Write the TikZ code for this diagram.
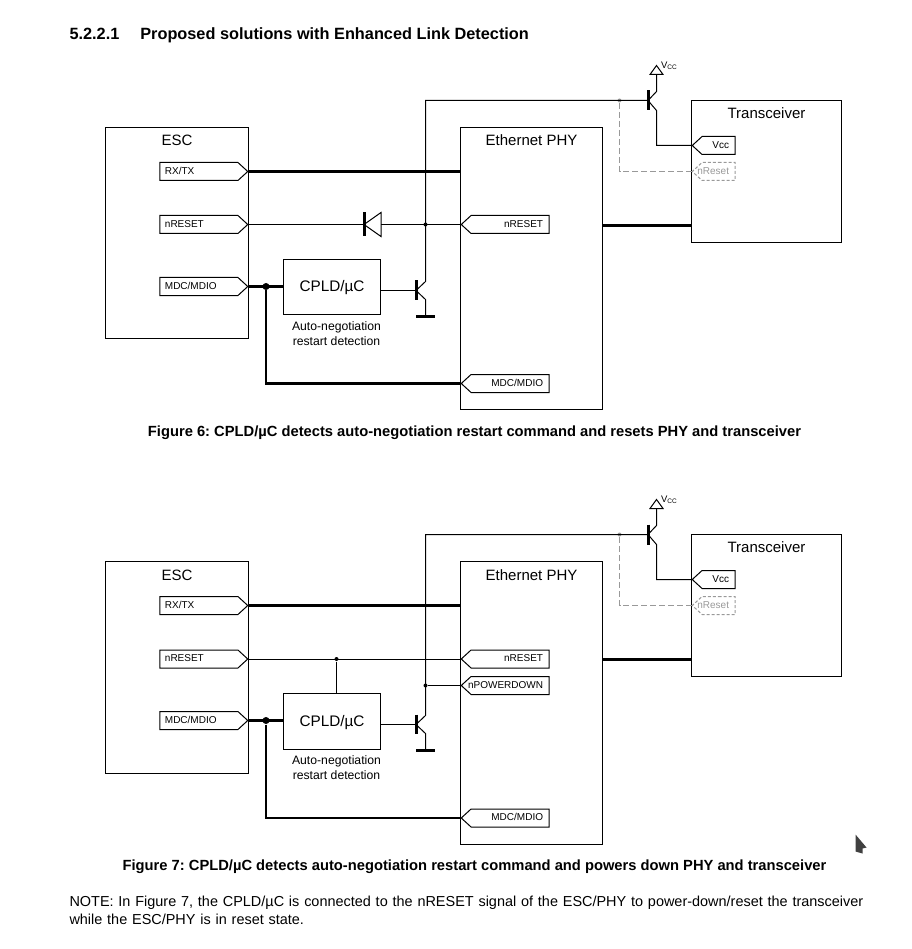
\documentclass[tikz,border=0pt]{standalone}
\usepackage{fontspec}
\setmainfont{Liberation Sans}
\usetikzlibrary{shapes.symbols}
\definecolor{ghost}{gray}{0.6}

\begin{document}
\frenchspacing
\begin{tikzpicture}[
	x=1pt,y=-1pt,
	line width=1pt,
	box/.style={draw,minimum width=143pt,inner sep=0pt},
	boxtitle/.style={font=\fontsize{15pt}{17pt}\selectfont},
	cpld/.style={draw,minimum width=97pt,text height=11pt,text depth=2pt,font=\fontsize{15.3pt}{17pt}\selectfont},
	outport/.style={draw,signal,signal to=east,signal pointer angle=85,anchor=east,inner xsep=5pt,inner ysep=0pt,minimum height=18pt,text width=68pt,text height=7.5pt,text depth=2pt,align=left,font=\fontsize{10pt}{12pt}\selectfont},
	inport/.style={draw,signal,signal to=west,signal pointer angle=85,anchor=west,inner xsep=6pt,inner ysep=0pt,minimum height=18pt,text width=#1,text height=7.5pt,text depth=2pt,align=right,font=\fontsize{10pt}{12pt}\selectfont},
	inport/.default=66pt,
	fat/.style={line width=2.8pt},
	bar/.style={line width=3pt},
	dot/.style={circle,fill,inner sep=0pt,minimum size=#1},
	dot/.default=4pt,
	note/.style={align=center,font=\fontsize{12.2pt}{15pt}\selectfont},
	caption/.style={font=\fontsize{14.72pt}{17pt}\bfseries\selectfont},
	ghostline/.style={ghost,dash pattern=on 6pt off 3pt}]
	\useasboundingbox (-0.5,-0.5) rectangle (910.5,948.5);

	\node[anchor=west,inner sep=0pt,font=\fontsize{16.3pt}{19pt}\bfseries\selectfont] (heading) at (68.5,34.5) {5.2.2.1\hspace{21pt}Proposed solutions with Enhanced Link Detection};

	% Figure 6
	\node[box,minimum height=211pt] (escA) at (176.5,232.5) {};
	\node[box,minimum width=142pt,minimum height=282pt] (phyA) at (531,268) {};
	\node[box,minimum width=150pt,minimum height=142pt] (xcvrA) at (766,171) {};
	\node[cpld,minimum height=55pt] (cpldA) at (331.5,286.5) {CPLD/µC};
	\node[boxtitle] (escAt) at (176.5,140) {ESC};
	\node[boxtitle] (phyAt) at (531,140) {Ethernet PHY};
	\node[boxtitle] (xcvrAt) at (766,113) {Transceiver};
	\node[note] (autoA) at (336,333.5) {Auto-negotiation\\restart detection};

	\node[outport] (rxA) at (248,171) {RX/TX};
	\node[outport] (rstA) at (248,224) {nRESET};
	\node[outport] (mdcA) at (248,286) {MDC/MDIO};
	\node[inport] (prstA) at (460,224) {nRESET};
	\node[inport] (pmdcA) at (460,383) {MDC/MDIO};
	\node[inport=21pt] (vccA) at (691,145) {Vcc};
	\node[inport=21pt,ghost,densely dashed,text=ghost] (xrstA) at (691,171) {\llap{nReset}};

	\coordinate (tqAb) at (647.5,100);
	\coordinate (tqAc) at (656,91);
	\coordinate (tqAe) at (656,110);
	\coordinate (tpAb) at (415.5,290);
	\coordinate (tpAc) at (425,281);
	\coordinate (tpAe) at (425,299);
	\coordinate (gndA) at (425,316);
	\coordinate (linkA) at (691,225);
	\coordinate (supA) at (656,74);
	\coordinate (cornerA) at (425,100);
	\node[dot] (jrstA) at (425,224) {};
	\node[dot,ghost] (jgA) at (619,100) {};
	\node[dot=7pt] (jmdcA) at (265.5,286) {};

	\draw[fat] (rxA.east) -- (phyA.west |- rxA.east);
	\draw[line width=3pt] (phyA.east |- linkA) -- (linkA);
	\draw[fat] (mdcA.east) -- (cpldA.west |- mdcA.east);
	\draw[fat] (jmdcA) |- (pmdcA.west);
	\draw (rstA.east) -- (363.5,224);
	\draw (380.5,224) -- (prstA.west);
	\draw[line width=3pt] (363.5,212) -- (363.5,236);
	\draw (363.5,224) -- (380.5,212) -- (380.5,236) -- cycle;
	\draw (cpldA.east |- tpAb) -- (tpAb);
	\draw[bar] (415.5,280) -- (415.5,299);
	\draw (tpAb) -- (tpAc) -- (cornerA) -- (tqAb);
	\draw (tpAb) -- (tpAe) -- (gndA);
	\draw[line width=2.2pt] (415.5,316) -- (434.5,316);
	\draw[bar] (647.5,90) -- (647.5,110);
	\draw (tqAb) -- (tqAc) -- (supA);
	\draw (649.5,74) -- (662.5,74) -- (656,65) -- cycle;
	\draw (tqAb) -- (tqAe) |- (vccA.west);
	\draw[ghostline] (jgA) |- (xrstA.west);
	\node[anchor=south west,inner sep=0pt,font=\fontsize{9.5pt}{10pt}\selectfont] (vccAt) at (660,70) {V\raisebox{-1.5pt}{\fontsize{6.5pt}{7pt}\selectfont CC}};

	\node[caption] (capA) at (474,432) {Figure 6: CPLD/µC detects auto-negotiation restart command and resets PHY and transceiver};

	% Figure 7
	\node[box,minimum height=212pt] (escB) at (176.5,667) {};
	\node[box,minimum width=142pt,minimum height=283pt] (phyB) at (531,702.5) {};
	\node[box,minimum width=150pt,minimum height=142pt] (xcvrB) at (766,605) {};
	\node[cpld,minimum height=56pt] (cpldB) at (331.5,721) {CPLD/µC};
	\node[boxtitle] (escBt) at (176.5,574.5) {ESC};
	\node[boxtitle] (phyBt) at (531,574.5) {Ethernet PHY};
	\node[boxtitle] (xcvrBt) at (766,547) {Transceiver};
	\node[note] (autoB) at (336,767.5) {Auto-negotiation\\restart detection};

	\node[outport] (rxB) at (248,605) {RX/TX};
	\node[outport] (rstB) at (248,658.5) {nRESET};
	\node[outport] (mdcB) at (248,720) {MDC/MDIO};
	\node[inport] (prstB) at (460,658.5) {nRESET};
	\node[inport] (ppdB) at (460,685) {\llap{nPOWERDOWN}};
	\node[inport] (pmdcB) at (460,817.5) {MDC/MDIO};
	\node[inport=21pt] (vccB) at (691,579) {Vcc};
	\node[inport=21pt,ghost,densely dashed,text=ghost] (xrstB) at (691,605) {\llap{nReset}};

	\coordinate (tqBb) at (647.5,534);
	\coordinate (tqBc) at (656,525);
	\coordinate (tqBe) at (656,544);
	\coordinate (tpBb) at (415.5,724);
	\coordinate (tpBc) at (425,715);
	\coordinate (tpBe) at (425,733);
	\coordinate (gndB) at (425,750);
	\coordinate (linkB) at (691,658.5);
	\coordinate (supB) at (656,508);
	\coordinate (cornerB) at (425,534);
	\node[dot] (jrstB) at (336,658.5) {};
	\node[dot] (jpdB) at (425,685) {};
	\node[dot,ghost] (jgB) at (619,534) {};
	\node[dot=7pt] (jmdcB) at (265.5,720) {};

	\draw[fat] (rxB.east) -- (phyB.west |- rxB.east);
	\draw[line width=3pt] (phyB.east |- linkB) -- (linkB);
	\draw[fat] (mdcB.east) -- (cpldB.west |- mdcB.east);
	\draw[fat] (jmdcB) |- (pmdcB.west);
	\draw (rstB.east) -- (prstB.west);
	\draw (jrstB) -- (jrstB |- cpldB.north);
	\draw (jpdB) -- (ppdB.west);
	\draw (cpldB.east |- tpBb) -- (tpBb);
	\draw[bar] (415.5,714) -- (415.5,733);
	\draw (tpBb) -- (tpBc) -- (cornerB) -- (tqBb);
	\draw (tpBb) -- (tpBe) -- (gndB);
	\draw[line width=2.2pt] (415.5,750) -- (434.5,750);
	\draw[bar] (647.5,524) -- (647.5,544);
	\draw (tqBb) -- (tqBc) -- (supB);
	\draw (649.5,508) -- (662.5,508) -- (656,499) -- cycle;
	\draw (tqBb) -- (tqBe) |- (vccB.west);
	\draw[ghostline] (jgB) |- (xrstB.west);
	\node[anchor=south west,inner sep=0pt,font=\fontsize{9.5pt}{10pt}\selectfont] (vccBt) at (660,504) {V\raisebox{-1.5pt}{\fontsize{6.5pt}{7pt}\selectfont CC}};

	\node[caption] (capB) at (474,866) {Figure 7: CPLD/µC detects auto-negotiation restart command and powers down PHY and transceiver};

	\node[anchor=north west,inner sep=0pt,text width=810pt,align=left,font=\fontsize{14.45pt}{17.3pt}\selectfont] (noteC) at (68.5,895.5) {NOTE: In Figure 7, the CPLD/µC is connected to the nRESET signal of the ESC/PHY to power-down/reset the transceiver\\while the ESC/PHY is in reset state.};

	% mouse pointer
	\fill[black!75] (855,834) -- (866,847) -- (862,848) -- (862,853) -- (855,851) -- cycle;
\end{tikzpicture}
\end{document}
